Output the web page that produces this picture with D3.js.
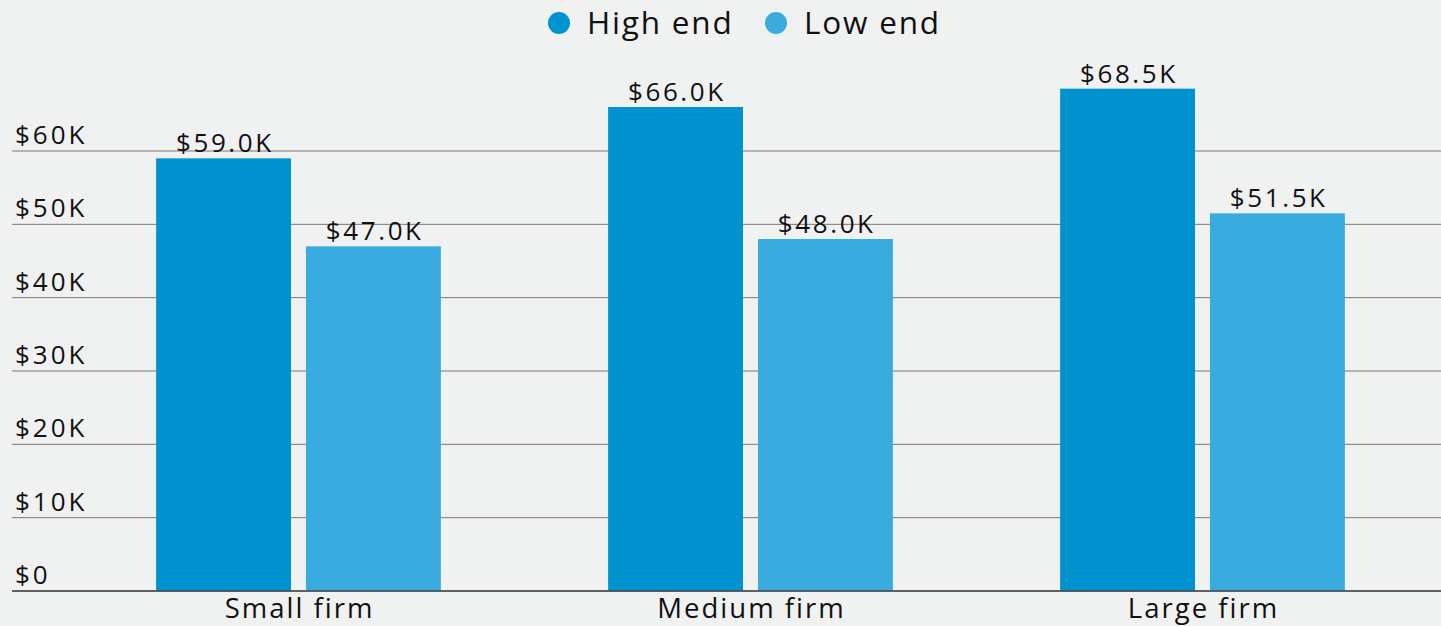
<!DOCTYPE html>
<html>
<head>
<meta charset="utf-8">
<script src="https://cdn.jsdelivr.net/npm/d3@7"></script>
<style>
  html, body { margin: 0; padding: 0; background: #f0f2f1; }
  svg { display: block; font-family: 'Open Sans', sans-serif; }
</style>
</head>
<body>
<div id="chart"></div>
<script>
const categories = ['Small firm', 'Medium firm', 'Large firm'];
const series = ['High end', 'Low end'];
const highEnd = [59.0, 66.0, 68.5];
const lowEnd = [47.0, 48.0, 51.5];
const yTicks = [0, 10, 20, 30, 40, 50, 60];
const colors = ['#0093d0', '#3aabde'];

const width = 1441;
const height = 626;

const svg = d3.select('#chart')
  .append('svg')
  .attr('width', width)
  .attr('height', height);

svg.append('rect')
  .attr('width', width)
  .attr('height', height)
  .attr('fill', '#f0f2f1');

const y = d3.scaleLinear()
  .domain([0, 60])
  .range([591, 151]);

const x0 = d3.scaleBand()
  .domain(categories)
  .range([72.5, 1428.5])
  .paddingInner(0.37)
  .paddingOuter(0.185);

const x1 = d3.scaleBand()
  .domain(series)
  .range([0, x0.bandwidth()])
  .paddingInner(0.1);

// gridlines + tick labels
const grid = svg.append('g');
yTicks.forEach((t) => {
  grid.append('line')
    .attr('x1', 12)
    .attr('x2', width)
    .attr('y1', y(t))
    .attr('y2', y(t))
    .attr('stroke', '#777')
    .attr('stroke-width', 1);
  grid.append('text')
    .attr('x', 15)
    .attr('y', y(t) - 7)
    .attr('font-size', 26)
    .attr('letter-spacing', 3)
    .attr('fill', '#111')
    .text(t === 0 ? '$0' : `$${t}K`);
});

const data = categories.map((c, i) => ({
  category: c,
  values: [
    { key: series[0], value: highEnd[i] },
    { key: series[1], value: lowEnd[i] }
  ]
}));

const groups = svg.selectAll('.group')
  .data(data)
  .enter()
  .append('g')
  .attr('class', 'group')
  .attr('transform', (d) => `translate(${x0(d.category)},0)`);

groups.selectAll('rect')
  .data((d) => d.values)
  .enter()
  .append('rect')
  .attr('x', (d) => x1(d.key))
  .attr('y', (d) => y(d.value))
  .attr('width', x1.bandwidth())
  .attr('height', (d) => y(0) - y(d.value))
  .attr('fill', (d, i) => colors[i]);

groups.selectAll('.value')
  .data((d) => d.values)
  .enter()
  .append('text')
  .attr('class', 'value')
  .attr('x', (d) => x1(d.key) + x1.bandwidth() / 2 + 1.3)
  .attr('y', (d) => y(d.value) - 6)
  .attr('text-anchor', 'middle')
  .attr('font-size', 26)
  .attr('letter-spacing', 2.6)
  .attr('fill', '#111')
  .text((d) => `$${d.value.toFixed(1)}K`);

// redraw baseline over bars
svg.append('line')
  .attr('x1', 12)
  .attr('x2', width)
  .attr('y1', y(0))
  .attr('y2', y(0))
  .attr('stroke', '#444')
  .attr('stroke-width', 1.5);

// category labels
svg.selectAll('.cat')
  .data(categories)
  .enter()
  .append('text')
  .attr('class', 'cat')
  .attr('x', (d) => x0(d) + x0.bandwidth() / 2 + 1)
  .attr('y', 618)
  .attr('text-anchor', 'middle')
  .attr('font-size', 27.5)
  .attr('letter-spacing', 2)
  .attr('fill', '#111')
  .text((d) => d);

// legend
const legendX = [559, 776];
const legend = svg.selectAll('.legend')
  .data(series)
  .enter()
  .append('g')
  .attr('class', 'legend')
  .attr('transform', (d, i) => `translate(${legendX[i]},23)`);

legend.append('circle')
  .attr('r', 11)
  .attr('fill', (d, i) => colors[i]);

legend.append('text')
  .attr('x', 28)
  .attr('y', 11)
  .attr('font-size', 31.5)
  .attr('letter-spacing', 1.8)
  .attr('fill', '#111')
  .text((d) => d);
</script>
</body>
</html>
